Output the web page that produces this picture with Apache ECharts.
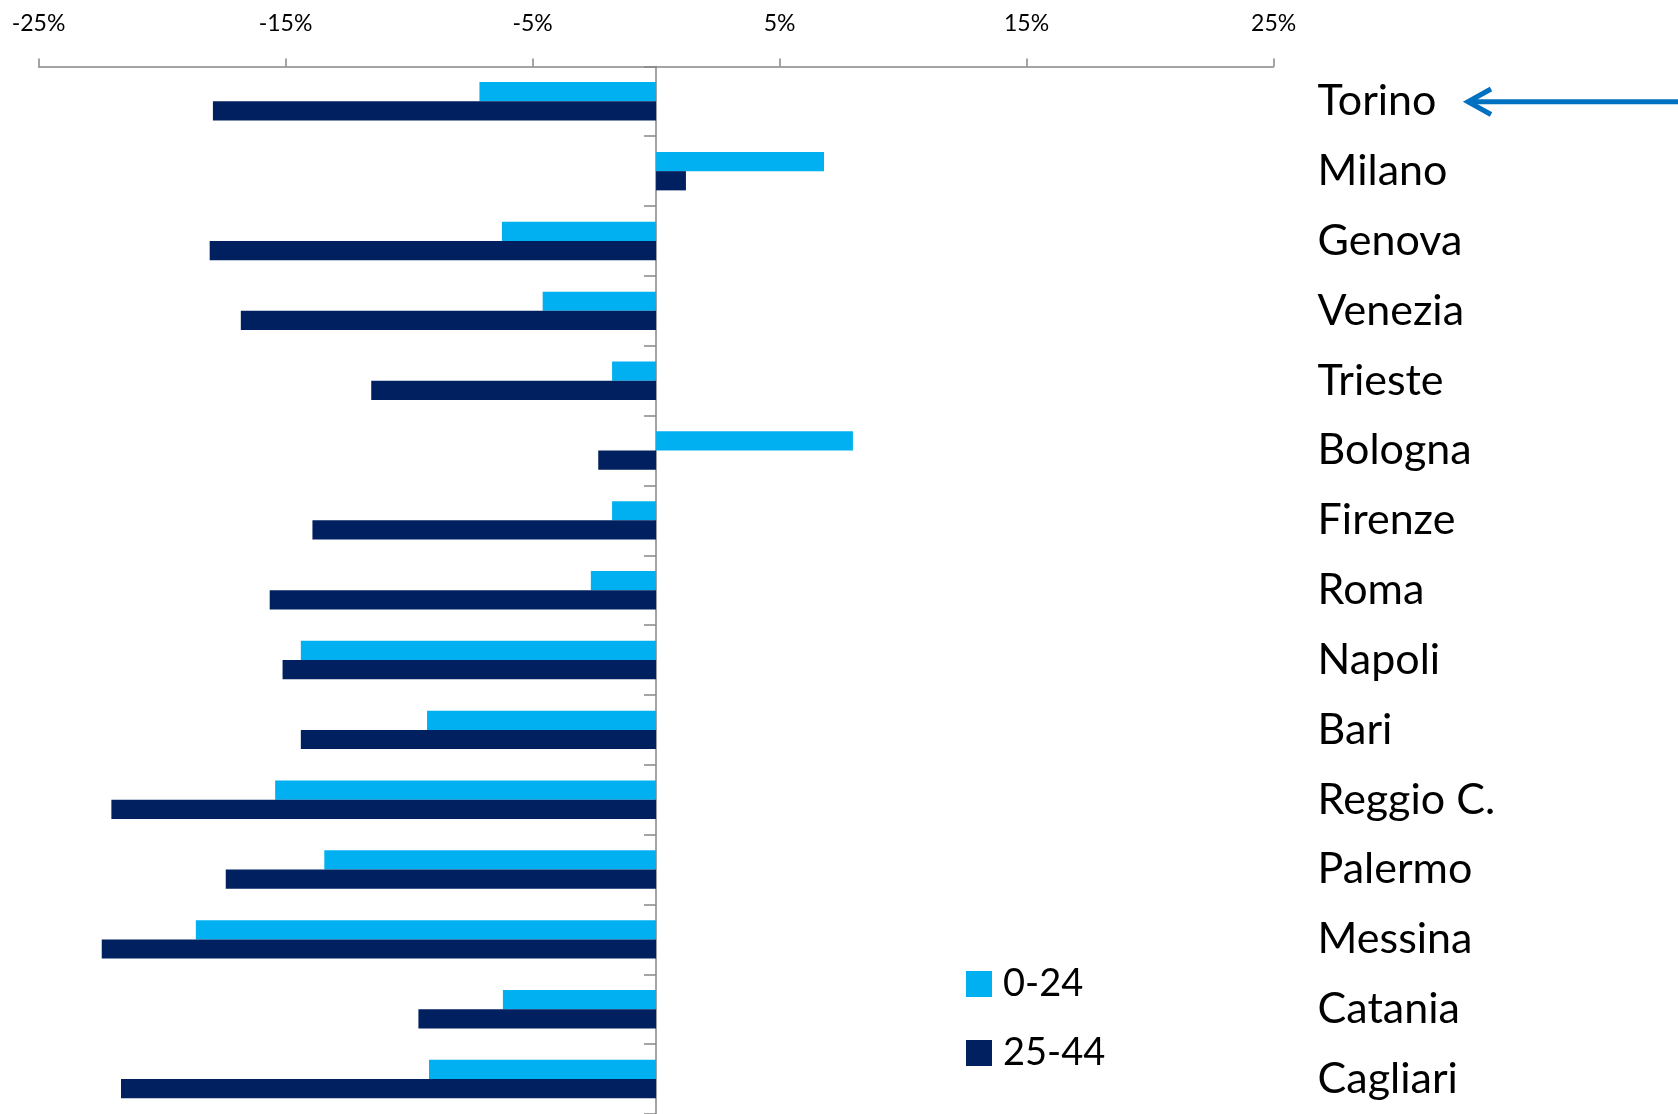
<!DOCTYPE html>
<html>
<head>
<meta charset="utf-8">
<script src="https://cdn.jsdelivr.net/npm/echarts@6/dist/echarts.min.js"></script>
<style>html,body{margin:0;padding:0;background:#fff}#c{width:1678px;height:1114px}</style>
</head>
<body>
<div id="c"></div>
<script>
const cities = ['Torino','Milano','Genova','Venezia','Trieste','Bologna','Firenze','Roma','Napoli','Bari','Reggio C.','Palermo','Messina','Catania','Cagliari'];
const young = [-7.15, 6.8, -6.24, -4.59, -1.78, 7.97, -1.78, -2.64, -14.38, -9.27, -15.42, -13.43, -18.63, -6.2, -9.19];
const adult = [-17.94, 1.21, -18.07, -16.81, -11.53, -2.34, -13.91, -15.64, -15.12, -14.38, -22.05, -17.42, -22.44, -9.62, -21.66];
const seriesNames = ['0-24', '25-44'];
const xTicks = { min: -25, max: 25, step: 10 };

const FONT = 'Lato';
const chart = echarts.init(document.getElementById('c'));
chart.setOption({
  animation: false,
  grid: { left: 38.5, right: 404.4, top: 66.4, bottom: 0, containLabel: false },
  xAxis: {
    type: 'value', position: 'top',
    min: xTicks.min, max: xTicks.max, interval: xTicks.step,
    axisLine: { show: true, lineStyle: { color: '#868686', width: 1.5 } },
    axisTick: { show: true, length: 8, lineStyle: { color: '#868686', width: 1.5 } },
    splitLine: { show: false },
    axisLabel: { formatter: v => v + '%', fontFamily: FONT, fontSize: 23, color: '#000', margin: 31 }
  },
  yAxis: [
    {
      type: 'category', data: cities, inverse: true, position: 'left',
      axisLine: { show: true, onZero: true, lineStyle: { color: '#868686', width: 1.5 } },
      axisTick: { show: true, length: 12, lineStyle: { color: '#868686', width: 1.5 } },
      axisLabel: { show: false }
    },
    {
      type: 'category', data: cities, inverse: true, position: 'right',
      axisLine: { show: false }, axisTick: { show: false },
      axisLabel: { show: true, fontFamily: FONT, fontSize: 43, color: '#000', margin: 44, align: 'left' }
    }
  ],
  legend: {
    orient: 'vertical', left: 961, top: 960, itemWidth: 26, itemHeight: 26, itemGap: 31,
    icon: 'rect',
    textStyle: { fontFamily: FONT, fontSize: 38, color: '#000', padding: [0, 0, 0, 6] },
    data: seriesNames
  },
  series: [
    { name: seriesNames[0], type: 'bar', data: young, itemStyle: { color: '#00B0F0' }, barGap: '0%', barCategoryGap: '45%' },
    { name: seriesNames[1], type: 'bar', data: adult, itemStyle: { color: '#002060' }, barGap: '0%', barCategoryGap: '45%' }
  ],
  graphic: [
    { type: 'line', shape: { x1: 1468, y1: 101.7, x2: 1678, y2: 101.7 }, style: { stroke: '#0070C0', lineWidth: 5 } },
    { type: 'polyline', shape: { points: [[1491, 89], [1468, 101.7], [1491, 114.5]] }, style: { stroke: '#0070C0', lineWidth: 5, fill: null, lineJoin: 'miter' } }
  ]
});
</script>
</body>
</html>
